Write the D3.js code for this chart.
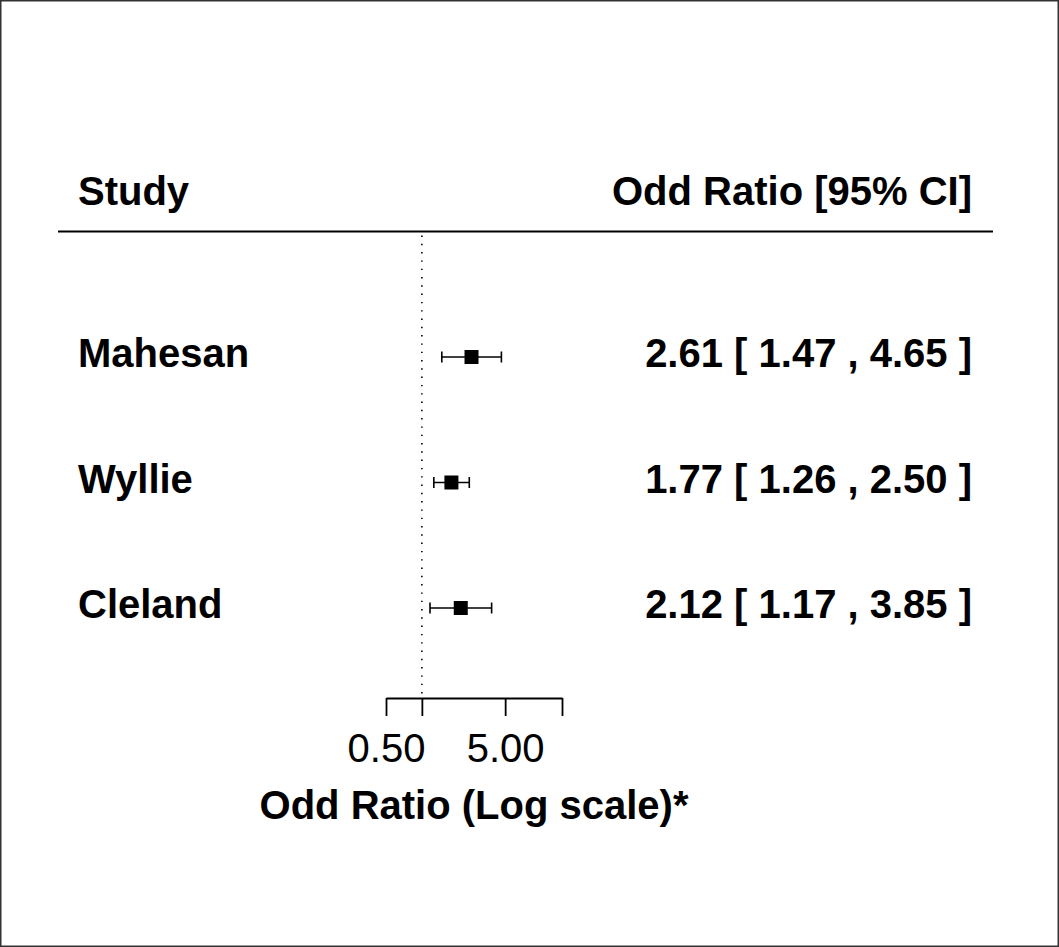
<!DOCTYPE html>
<html>
<head>
<meta charset="utf-8">
<script src="https://cdn.jsdelivr.net/npm/d3@7"></script>
<style>
  html, body { margin: 0; padding: 0; background: #fff; }
  svg { display: block; }
  text { font-family: "Liberation Sans", Arial, Helvetica, sans-serif; fill: #000; }
</style>
</head>
<body>
<svg id="chart" width="1059" height="947"></svg>
<script>
// ---- data ----
const studies = ["Mahesan", "Wyllie", "Cleland"];
const oddsRatio = [2.61, 1.77, 2.12];
const ciLower = [1.47, 1.26, 1.17];
const ciUpper = [4.65, 2.50, 3.85];
const tickValues = [0.5, 1, 5, 15];
const tickLabels = ["0.50", "", "5.00", ""];
const headerLeft = "Study";
const headerRight = "Odd Ratio [95% CI]";
const xTitle = "Odd Ratio (Log scale)*";

// ---- layout ----
const W = 1059, H = 947;
const svg = d3.select("#chart");
const fs = 40;

svg.append("rect")
  .attr("x", 0.75).attr("y", 0.75)
  .attr("width", W - 1.5).attr("height", H - 1.5)
  .attr("fill", "#fff").attr("stroke", "#333").attr("stroke-width", 1.5);

const x = d3.scaleLog().domain([0.5, 15]).range([386, 562]);
// rows: top row = index 0
const y = d3.scaleLinear().domain([0, 2]).range([357, 608]);

const headerLineY = 231.5;
const axisY = 698;

// header
svg.append("text").attr("x", 78).attr("y", 205)
  .attr("font-size", fs).attr("font-weight", "bold").text(headerLeft);
svg.append("text").attr("x", 972).attr("y", 205).attr("text-anchor", "end")
  .attr("font-size", fs).attr("font-weight", "bold").text(headerRight);
svg.append("line").attr("x1", 58).attr("x2", 993)
  .attr("y1", headerLineY).attr("y2", headerLineY)
  .attr("stroke", "#000").attr("stroke-width", 2);

// reference line at OR = 1
svg.append("line")
  .attr("x1", x(1)).attr("x2", x(1))
  .attr("y1", headerLineY + 4).attr("y2", axisY)
  .attr("stroke", "#000").attr("stroke-width", 1.6)
  .attr("stroke-dasharray", "1.4,6.9");

// rows
const rows = studies.map((s, i) => ({ s, or: oddsRatio[i], lo: ciLower[i], hi: ciUpper[i], i }));
const g = svg.append("g");
const capH = 5.5;
rows.forEach(d => {
  const yy = y(d.i);
  g.append("line").attr("x1", x(d.lo)).attr("x2", x(d.hi)).attr("y1", yy).attr("y2", yy)
    .attr("stroke", "#000").attr("stroke-width", 1.6);
  [d.lo, d.hi].forEach(v => {
    g.append("line").attr("x1", x(v)).attr("x2", x(v)).attr("y1", yy - capH).attr("y2", yy + capH)
      .attr("stroke", "#000").attr("stroke-width", 1.6);
  });
  g.append("rect").attr("x", x(d.or) - 7).attr("y", yy - 7).attr("width", 14).attr("height", 14)
    .attr("fill", "#000");
  g.append("text").attr("x", 78).attr("y", yy + 10)
    .attr("font-size", fs).attr("font-weight", "bold").text(d.s);
  g.append("text").attr("x", 972).attr("y", yy + 10).attr("text-anchor", "end")
    .attr("font-size", fs).attr("font-weight", "bold")
    .text(`${d.or.toFixed(2)} [ ${d.lo.toFixed(2)} , ${d.hi.toFixed(2)} ]`);
});

// axis
const axis = d3.axisBottom(x).tickValues(tickValues).tickSize(18).tickSizeOuter(0)
  .tickFormat((d, i) => tickLabels[i]);
const ag = svg.append("g").attr("transform", `translate(0,${axisY})`).call(axis);
ag.select(".domain").attr("stroke", "#000").attr("stroke-width", 1.8);
ag.selectAll(".tick line").attr("stroke", "#000").attr("stroke-width", 1.8);
ag.selectAll(".tick text")
  .attr("font-family", "Liberation Sans, Arial, sans-serif")
  .attr("font-size", fs).attr("fill", "#000")
  .attr("dy", null).attr("y", 762 - axisY);

svg.append("text").attr("x", (x.range()[0] + x.range()[1]) / 2).attr("y", 819)
  .attr("text-anchor", "middle").attr("font-size", fs).attr("font-weight", "bold").text(xTitle);
</script>
</body>
</html>
